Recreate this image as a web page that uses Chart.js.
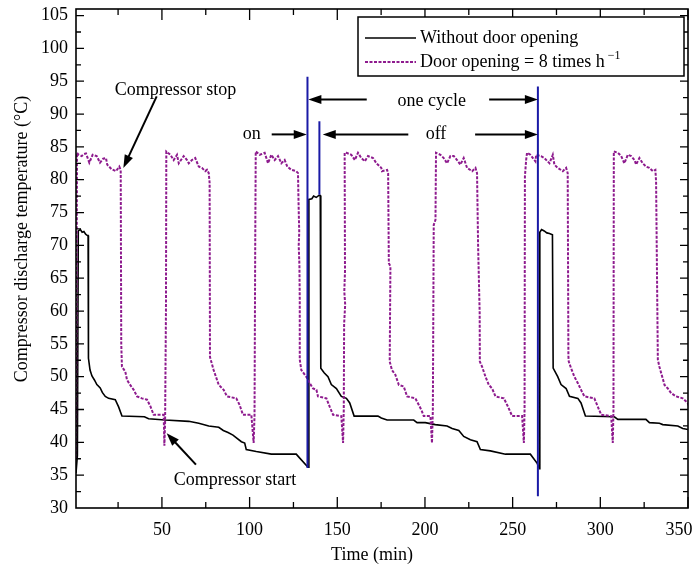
<!DOCTYPE html>
<html>
<head>
<meta charset="utf-8">
<script src="https://cdn.jsdelivr.net/npm/chart.js@4.4.1/dist/chart.umd.min.js"></script>
<style>
  html, body { margin: 0; padding: 0; background: #fff; }
  #wrap { width: 695px; height: 569px; }
</style>
</head>
<body>
<div id="wrap"><canvas id="chart" width="695" height="569"></canvas></div>
<script>
const xTicks = [50, 100, 150, 200, 250, 300, 350];
const yTicks = [30, 35, 40, 45, 50, 55, 60, 65, 70, 75, 80, 85, 90, 95, 100, 105];

// Without door opening (black)
const noDoorTime = [1, 1.8, 2.3, 3.5, 4.5, 5.5, 6.5, 7.5, 7.9, 8.1, 9.0, 10.1, 11.5, 12.9, 14.8, 16.0, 17.7, 19.6, 23.4,
  25.3, 27.2, 40.0, 42.4, 51.9, 65.3, 71.0, 76.7, 82.4, 85.0, 87.7, 90.5, 95.3, 97.2, 98.1, 103.8, 112.4, 126.6, 128.6,
  133.3, 133.6, 133.8, 135.5, 136.5, 138.0, 139.5, 140.3, 140.6, 142.5, 144.7, 146.6, 149.5, 152.3, 155.2, 157.1, 159.6,
  173.2, 175.1, 178.4, 193.6, 195.5, 200.2, 205.9, 212.6, 215.5, 219.3, 222.1, 225.9, 229.7, 231.6, 237.3, 245.9, 260.1,
  264.0, 265.3, 265.5, 266.5, 268.0, 269.5, 271.0, 272.7, 273.1, 275.7, 277.6, 280.5, 282.4, 287.2, 289.0, 291.5, 308.0,
  310.0, 326.0, 328.0, 333.7, 335.6, 344.2, 347.0, 351.0];
const noDoorTemp = [35.3, 38.0, 72.2, 72.4, 72.0, 72.1, 71.7, 71.5, 71.5, 52.8, 51.0, 50.1, 49.5, 48.8, 48.3, 47.6, 47.0, 46.7, 46.5,
  45.4, 44.0, 43.9, 43.6, 43.4, 43.2, 42.9, 42.5, 42.3, 41.8, 41.5, 41.1, 40.1, 39.9, 38.9, 38.6, 38.2, 38.2, 37.6,
  36.2, 36.2, 77.0, 77.1, 77.5, 77.3, 77.6, 77.6, 51.3, 50.6, 50.0, 48.8, 48.2, 47.0, 46.7, 46.0, 44.0,
  44.0, 43.7, 43.4, 43.4, 43.0, 43.0, 42.7, 42.5, 42.1, 41.8, 40.9, 40.4, 40.1, 38.9, 38.7, 38.2, 38.2,
  36.8, 36.0, 72.0, 72.4, 72.2, 71.9, 71.8, 71.6, 51.3, 50.0, 48.8, 48.2, 47.0, 46.7, 46.0, 44.0, 43.9,
  43.5, 43.5, 43.0, 42.9, 42.7, 42.5, 42.1, 41.9];

// Door opening = 8 times per hour (purple)
const doorTime = [1, 1.3, 1.6, 2.5, 4.2, 5.5, 6.7, 8.6, 10.5, 12.8, 14.7, 16.5, 18.1, 18.8, 21.3, 23.8, 25.7, 26.5, 26.8, 27.2,
  29.1, 30.1, 31.9, 33.9, 35.8, 38.6, 41.5, 43.4, 45.3, 51.0, 51.4, 51.8, 52.3, 52.5,
  54.8, 56.7, 58.6, 59.6, 62.4, 64.3, 65.3, 67.1, 69.0, 71.0, 72.8, 74.7, 75.7, 76.7, 77.2, 77.4, 77.6, 79.5, 80.4, 82.4,
  85.2, 87.1, 92.4, 94.3, 96.2, 101.0, 102.3, 102.8, 103.2, 103.5,
  105.8, 108.6, 110.5, 112.4, 114.3, 116.2, 118.1, 120.0, 121.5, 123.8, 126.6, 127.6, 127.8, 128.0, 128.3, 128.0, 128.4,
  128.6, 128.6, 129.5, 132.3, 134.3, 136.2, 138.1, 139.0, 143.8, 145.7, 147.6, 152.3, 153.3, 153.7, 153.9, 154.5, 154.0,
  154.4, 154.2,
  155.2, 158.0, 160.0, 161.8, 163.7, 165.7, 167.5, 170.4, 172.3, 175.1, 175.5, 178.4, 179.0, 179.4, 180.3, 179.9, 181.2,
  183.1, 185.1, 187.9, 189.8, 194.5, 196.5, 198.0, 199.3, 203.1, 204.0, 204.5, 205.0, 206.0, 206.3,
  208.8, 210.7, 212.6, 214.5, 216.4, 218.3, 220.2, 222.1, 224.0, 226.9, 228.8, 229.7, 230.3, 231.2, 231.3, 232.6, 234.5,
  236.4, 238.3, 240.2, 245.0, 247.4, 249.7, 255.4, 256.4, 256.8, 257.0, 257.7, 258.2,
  260.1, 263.0, 263.4, 266.2, 268.1, 271.0, 272.9, 273.8, 275.7, 278.6, 280.5, 281.4, 281.8, 282.0, 283.3, 285.2, 287.2,
  289.0, 290.9, 296.6, 298.6, 300.5, 306.2, 307.1, 307.5, 307.7,
  310.0, 311.9, 313.7, 315.7, 317.6, 319.5, 320.4, 322.3, 324.2, 326.1, 328.0, 330.0, 331.4, 331.8, 332.8, 333.7, 335.3,
  336.6, 338.5, 340.4, 343.2, 347.0, 349.8, 351.2];
const doorTemp = [37.5, 60.0, 84.1, 83.8, 83.6, 83.9, 84.0, 82.6, 83.8, 83.6, 82.6, 83.2, 83.3, 82.3, 81.6, 81.3, 82.0, 81.5, 55.1, 51.5,
  50.8, 49.5, 48.75, 48.0, 47.0, 46.7, 46.5, 45.5, 44.2, 44.2, 39.5, 43.0, 60.0, 84.3,
  83.8, 83.0, 83.8, 82.5, 83.6, 83.0, 82.5, 83.0, 83.3, 82.0, 81.8, 81.3, 81.5, 81.0, 79.5, 53.0, 52.8, 51.0, 50.3, 48.75,
  48.0, 47.0, 46.7, 45.7, 44.2, 44.2, 39.9, 44.0, 70.0, 84.3,
  83.8, 84.1, 82.5, 83.8, 83.0, 83.6, 82.5, 83.0, 82.0, 81.5, 81.3, 81.0, 78.0, 75.4, 72.0, 70.0, 67.0,
  61.7, 52.6, 51.0, 50.0, 49.0, 48.2, 48.0, 47.0, 46.7, 45.4, 44.2, 44.0, 39.9, 45.0, 58.0, 61.0, 63.0,
  66.0, 84.1,
  84.1, 83.8, 83.0, 84.1, 83.3, 82.8, 83.6, 83.3, 82.5, 81.8, 81.3, 81.5, 81.0, 67.3, 66.8, 52.3, 51.0,
  50.3, 48.75, 48.5, 47.0, 46.7, 45.7, 44.9, 44.0, 44.0, 39.9, 45.0, 73.1, 73.9, 84.1,
  83.8, 83.3, 82.5, 83.6, 83.6, 83.0, 82.3, 83.3, 81.8, 81.3, 81.8, 81.0, 70.0, 59.7, 52.3, 51.5, 50.0,
  48.75, 48.2, 47.0, 46.7, 45.4, 44.0, 44.0, 39.9, 45.0, 80.5, 83.0, 84.1,
  83.8, 82.8, 83.8, 83.6, 83.3, 82.5, 83.8, 82.3, 81.8, 81.3, 81.8, 81.0, 53.1, 52.3, 51.3, 50.0, 49.0,
  48.0, 47.0, 46.7, 45.4, 44.2, 44.0, 39.9, 45.0, 84.3,
  84.1, 83.6, 82.5, 83.8, 83.6, 83.0, 82.3, 83.3, 82.5, 82.0, 81.8, 81.3, 81.5, 79.7, 52.6, 51.5, 50.0,
  48.75, 48.2, 47.5, 47.0, 46.7, 46.0, 45.0];

// blue markers of the on/off cycle
const markerTime = [133.0, 139.8, 264.4];
const markerLow = [36.1, 77.7, 31.8];
const markerHigh = [95.7, 88.9, 94.2];

// text notes and arrows, in data units
const notes = [
  { text: 'Compressor stop', x: 57.8, y: 93.6 },
  { text: 'Compressor start', x: 91.7, y: 34.3 },
  { text: 'on', x: 101.2, y: 86.9 },
  { text: 'off', x: 206.3, y: 86.9 },
  { text: 'one cycle', x: 203.9, y: 91.9 }
];
const arrows = [
  [47.0, 92.7, 28.0, 81.8],
  [69.4, 36.6, 52.7, 41.4],
  [112.6, 86.9, 132.6, 86.9],
  [190.5, 86.9, 141.7, 86.9],
  [228.6, 86.9, 264.4, 86.9],
  [166.8, 92.2, 133.5, 92.2],
  [236.6, 92.2, 264.4, 92.2]
];

const FONT = '"Liberation Serif", "Times New Roman", serif';
const toPoints = (xs, ys) => xs.map((v, i) => ({ x: v, y: ys[i] }));

const datasets = [
  {
    label: 'Without door opening',
    data: toPoints(noDoorTime, noDoorTemp),
    borderColor: '#000000',
    borderWidth: 1.6,
    order: 2
  },
  {
    label: 'Door opening = 8 times h',
    sup: '\u22121',
    data: toPoints(doorTime, doorTemp),
    borderColor: '#8e1b8e',
    borderWidth: 2,
    borderDash: [3, 1.5],
    order: 1
  }
];
markerTime.forEach((t, i) => {
  datasets.push({
    label: 'marker',
    data: [{ x: t, y: markerLow[i] }, { x: t, y: markerHigh[i] }],
    borderColor: '#1a1aa6',
    borderWidth: 2,
    order: 0
  });
});

// frame + inward ticks on all four sides, axis titles
const framePlugin = {
  id: 'frame',
  afterDatasetsDraw(chart) {
    const { ctx, chartArea: a, scales: { x, y } } = chart;
    ctx.save();
    ctx.strokeStyle = '#000';
    ctx.lineWidth = 1.6;
    ctx.strokeRect(a.left, a.top, a.right - a.left, a.bottom - a.top);
    ctx.lineWidth = 1.3;
    ctx.beginPath();
    const xs = [25];
    xTicks.forEach(v => { xs.push(v); if (v + 25 < 350) xs.push(v + 25); });
    xs.forEach(v => {
      const px = x.getPixelForValue(v);
      const len = v % 50 === 0 ? 11 : 6;
      ctx.moveTo(px, a.bottom); ctx.lineTo(px, a.bottom - len);
      ctx.moveTo(px, a.top); ctx.lineTo(px, a.top + len);
    });
    yTicks.forEach(v => {
      [v, v + 2.5].forEach(w => {
        if (w > 106 || w <= 30) return;
        const py = y.getPixelForValue(w);
        const len = w % 5 === 0 ? 8 : 5;
        ctx.moveTo(a.left, py); ctx.lineTo(a.left + len, py);
        ctx.moveTo(a.right, py); ctx.lineTo(a.right - len, py);
      });
    });
    ctx.stroke();

    ctx.fillStyle = '#000';
    ctx.font = '18px ' + FONT;
    ctx.textAlign = 'center';
    ctx.textBaseline = 'middle';
    ctx.fillText('Time (min)', 372, 555);
    ctx.translate(22, 239);
    ctx.rotate(-Math.PI / 2);
    ctx.fillText('Compressor discharge temperature (\u00B0C)', 0, 0);
    ctx.restore();
  }
};

const arrowHead = (ctx, x1, y1, x2, y2) => {
  const ang = Math.atan2(y2 - y1, x2 - x1);
  const L = 13, W = 4.5;
  ctx.beginPath();
  ctx.moveTo(x2, y2);
  ctx.lineTo(x2 - L * Math.cos(ang) + W * Math.sin(ang), y2 - L * Math.sin(ang) - W * Math.cos(ang));
  ctx.lineTo(x2 - L * Math.cos(ang) - W * Math.sin(ang), y2 - L * Math.sin(ang) + W * Math.cos(ang));
  ctx.closePath();
  ctx.fill();
};

const notesPlugin = {
  id: 'notes',
  afterDatasetsDraw(chart) {
    const { ctx, scales: { x, y } } = chart;
    ctx.save();
    ctx.fillStyle = '#000';
    ctx.strokeStyle = '#000';
    ctx.font = '18px ' + FONT;
    ctx.textAlign = 'center';
    ctx.textBaseline = 'middle';
    notes.forEach(n => ctx.fillText(n.text, x.getPixelForValue(n.x), y.getPixelForValue(n.y)));
    ctx.lineWidth = 2;
    arrows.forEach(([a, b, c, d]) => {
      const x1 = x.getPixelForValue(a), y1 = y.getPixelForValue(b);
      const x2 = x.getPixelForValue(c), y2 = y.getPixelForValue(d);
      const ang = Math.atan2(y2 - y1, x2 - x1);
      ctx.beginPath();
      ctx.moveTo(x1, y1);
      ctx.lineTo(x2 - 8 * Math.cos(ang), y2 - 8 * Math.sin(ang));
      ctx.stroke();
      arrowHead(ctx, x1, y1, x2, y2);
    });
    ctx.restore();
  }
};

// boxed legend in the upper right corner
const legendPlugin = {
  id: 'boxLegend',
  afterDraw(chart) {
    const { ctx } = chart;
    const box = { left: 358, top: 17, right: 684, bottom: 76 };
    ctx.save();
    ctx.fillStyle = '#fff';
    ctx.fillRect(box.left, box.top, box.right - box.left, box.bottom - box.top);
    ctx.strokeStyle = '#000';
    ctx.lineWidth = 1.5;
    ctx.strokeRect(box.left, box.top, box.right - box.left, box.bottom - box.top);
    chart.data.datasets.slice(0, 2).forEach((ds, i) => {
      const cy = 38 + i * 24;
      ctx.strokeStyle = ds.borderColor;
      ctx.lineWidth = ds.borderWidth;
      ctx.setLineDash(ds.borderDash || []);
      ctx.beginPath();
      ctx.moveTo(365, cy);
      ctx.lineTo(416, cy);
      ctx.stroke();
      ctx.setLineDash([]);
      ctx.fillStyle = '#000';
      ctx.font = '18px ' + FONT;
      ctx.textAlign = 'left';
      ctx.textBaseline = 'middle';
      ctx.fillText(ds.label, 420, cy);
      if (ds.sup) {
        const w = ctx.measureText(ds.label).width;
        ctx.font = '12px ' + FONT;
        ctx.fillText(ds.sup, 420 + w + 3, cy - 6);
      }
    });
    ctx.restore();
  }
};

new Chart(document.getElementById('chart'), {
  type: 'line',
  data: { datasets },
  options: {
    responsive: false,
    animation: false,
    devicePixelRatio: 1,
    layout: { padding: { left: 0, right: 7, top: 9, bottom: 0 } },
    elements: { point: { radius: 0 }, line: { tension: 0 } },
    plugins: { legend: { display: false }, tooltip: { enabled: false } },
    scales: {
      x: {
        type: 'linear',
        min: 1,
        max: 350,
        grid: { display: false, drawTicks: false },
        border: { display: false },
        afterBuildTicks: s => { s.ticks = xTicks.map(v => ({ value: v })); },
        afterFit: s => { s.height = 61; s.paddingLeft = 0; s.paddingRight = 0; },
        ticks: {
          color: '#000', font: { family: FONT, size: 18 }, padding: 11, maxRotation: 0,
          callback: v => (v === 350 ? v + '\u2002\u2002' : String(v))
        }
      },
      y: {
        type: 'linear',
        min: 30,
        max: 106,
        grid: { display: false, drawTicks: false },
        border: { display: false },
        afterBuildTicks: s => { s.ticks = yTicks.map(v => ({ value: v })); },
        afterFit: s => { s.width = 76; s.paddingTop = 0; s.paddingBottom = 0; },
        ticks: { color: '#000', font: { family: FONT, size: 18 }, padding: 8 }
      }
    }
  },
  plugins: [framePlugin, notesPlugin, legendPlugin]
});
</script>
</body>
</html>
